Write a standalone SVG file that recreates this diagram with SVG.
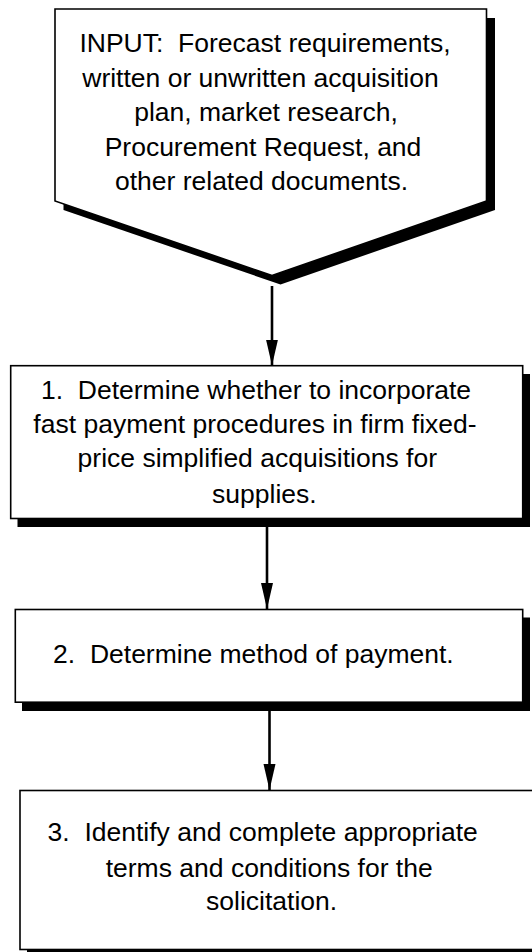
<svg xmlns="http://www.w3.org/2000/svg" width="532" height="952" viewBox="0 0 532 952">
<defs>
<style>
.box{fill:#fff;stroke:#000;stroke-width:1.6}
.sh{fill:#000}
.t{font-family:"Liberation Sans",Arial,sans-serif;font-size:26.5px;fill:#000;text-anchor:middle;white-space:pre}
.conn{stroke:#000;stroke-width:2.6;fill:none}
</style>
<marker id="ah" markerUnits="userSpaceOnUse" markerWidth="28" markerHeight="14" refX="26" refY="6" orient="auto">
<path d="M0,0 L26,6 L0,12 Z" fill="#000"/>
</marker>
</defs>
<rect width="532" height="952" fill="#fff"/>
<g id="input">
<polygon class="sh" points="63.5,18 495,18 495,210 280.5,284.5 63.5,210"/>
<polygon class="box" points="55,9 486.5,9 486.5,201 272,275.5 55,201"/>
<text class="t" x="265" y="52" xml:space="preserve">INPUT:  Forecast requirements,</text>
<text class="t" x="260.5" y="86.5">written or unwritten acquisition</text>
<text class="t" x="266" y="121">plan, market research,</text>
<text class="t" x="263" y="155.5">Procurement Request, and</text>
<text class="t" x="261.5" y="190">other related documents.</text>
</g>
<g id="step1">
<rect class="sh" x="17.5" y="374" width="512.5" height="153"/>
<rect class="box" x="10.7" y="365.7" width="512" height="152.8"/>
<text class="t" x="256" y="398.5" xml:space="preserve">1.  Determine whether to incorporate</text>
<text class="t" x="255" y="433.3">fast payment procedures in firm fixed-</text>
<text class="t" x="257.3" y="467">price simplified acquisitions for</text>
<text class="t" x="264.4" y="502.7">supplies.</text>
</g>
<g id="step2">
<rect class="sh" x="22" y="617.5" width="508" height="93.5"/>
<rect class="box" x="15.3" y="609.5" width="507.4" height="92.7"/>
<text class="t" x="253.4" y="662.7" xml:space="preserve">2.  Determine method of payment.</text>
</g>
<g id="step3">
<rect class="sh" x="27" y="798" width="520" height="160"/>
<rect class="box" x="20" y="790.5" width="520" height="159"/>
<text class="t" x="262.7" y="840.7" xml:space="preserve">3.  Identify and complete appropriate</text>
<text class="t" x="269.2" y="876.7">terms and conditions for the</text>
<text class="t" x="271.6" y="910">solicitation.</text>
</g>
<g id="connectors">
<line class="conn" x1="272" y1="286" x2="272" y2="365.5" marker-end="url(#ah)"/>
<line class="conn" x1="267" y1="527" x2="267" y2="609" marker-end="url(#ah)"/>
<line class="conn" x1="269.5" y1="711" x2="269.5" y2="790" marker-end="url(#ah)"/>
</g>
</svg>
